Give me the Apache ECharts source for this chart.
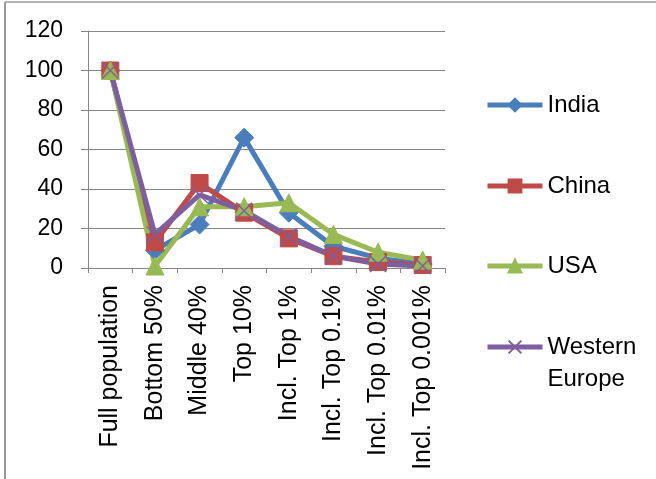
<!DOCTYPE html>
<html>
<head>
<meta charset="utf-8">
<script src="https://cdn.jsdelivr.net/npm/echarts@6/dist/echarts.min.js"></script>
<style>
html,body{margin:0;padding:0;background:#fff;}
#chart{width:656px;height:479px;}
</style>
</head>
<body>
<div id="chart"></div>
<script>
const categories = ['Full population','Bottom 50%','Middle 40%','Top 10%','Incl. Top 1%','Incl. Top 0.1%','Incl. Top 0.01%','Incl. Top 0.001%'];
const india = [100, 9, 22, 66, 28, 11, 5, 2];
const china = [100, 13, 43, 28, 15, 6, 3, 1.5];
const usa = [100, 1, 31, 31, 33, 17, 8, 4];
const westernEurope = [100, 17, 37, 29, 16, 6, 2, 1];
const yTicks = [0, 20, 40, 60, 80, 100, 120];

const FONT = 'Liberation Sans';
const colors = {india:'#4A7EBB', china:'#BE4B48', usa:'#98B954', we:'#7D5FA0'};
const xPath = 'path://M0,0L10,10M10,0L0,10';

function mkSeries(name, data, color, symbol, size, extra) {
  return Object.assign({
    name: name, type: 'line', data: data,
    symbol: symbol, symbolSize: size,
    lineStyle: {color: color, width: 5},
    itemStyle: {color: color, borderColor: color, borderWidth: 1},
    emphasis: {disabled: true},
    animation: false
  }, extra || {});
}

function mkLegend(name, top, extra) {
  return Object.assign({
    data: [name],
    left: 485, top: top, orient: 'vertical', padding: 0,
    itemWidth: 55, itemHeight: 16,
    lineStyle: {width: 5},
    textStyle: {fontFamily: FONT, fontSize: 24, color: '#000', lineHeight: 30}
  }, extra || {});
}

const chart = echarts.init(document.getElementById('chart'));
chart.setOption({
  animation: false,
  backgroundColor: '#fff',
  graphic: [
    {type:'line', shape:{x1:5, y1:2, x2:656, y2:2}, style:{stroke:'#9a9a9a', lineWidth:1.5}},
    {type:'line', shape:{x1:5, y1:2, x2:5, y2:479}, style:{stroke:'#9a9a9a', lineWidth:2}}
  ],
  legend: [
    mkLegend('India', 105 - 15),
    mkLegend('China', 186 - 15),
    mkLegend('USA', 266 - 15),
    mkLegend('Western Europe', 347 - 48, {
      formatter: function(){ return ' \nWestern\nEurope'; },
      textStyle: {fontFamily: FONT, fontSize: 24, color: '#000', lineHeight: 32}
    })
  ],
  grid: {left: 88, right: 211, top: 31, bottom: 211, containLabel: false},
  xAxis: {
    type: 'category', data: categories, boundaryGap: true,
    axisLine: {lineStyle: {color: '#868686', width: 1}},
    axisTick: {show: true, length: 5, alignWithLabel: false, lineStyle: {color: '#868686'}},
    axisLabel: {rotate: 90, interval: 0, margin: 17, fontFamily: FONT, fontSize: 25, color: '#000'},
    splitLine: {show: false}
  },
  yAxis: {
    type: 'value', min: yTicks[0], max: yTicks[yTicks.length-1], interval: 20,
    axisLine: {show: true, lineStyle: {color: '#868686', width: 1}},
    axisTick: {show: true, length: 7, lineStyle: {color: '#868686'}},
    axisLabel: {margin: 25, fontFamily: FONT, fontSize: 23, color: '#000',
      formatter: function(v){ return yTicks.indexOf(v) >= 0 ? String(v) : ''; }},
    splitLine: {show: true, lineStyle: {color: '#868686', width: 1}}
  },
  series: [
    mkSeries('India', india, colors.india, 'diamond', [19, 19]),
    mkSeries('China', china, colors.china, 'rect', 17),
    mkSeries('USA', usa, colors.usa, 'triangle', 18),
    mkSeries('Western Europe', westernEurope, colors.we, xPath, 16,
      {itemStyle: {color: 'none', borderColor: colors.we, borderWidth: 1.5}})
  ]
});
</script>
</body>
</html>
